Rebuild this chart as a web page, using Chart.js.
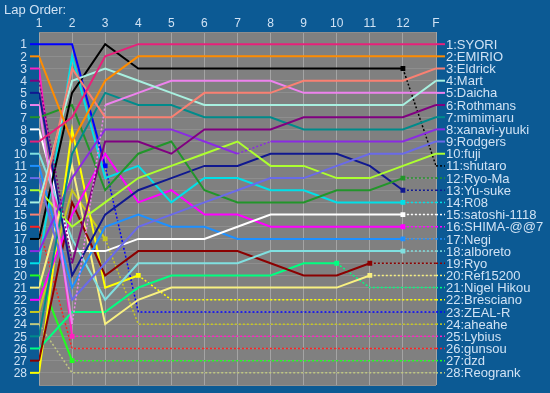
<!DOCTYPE html>
<html>
<head>
<meta charset="utf-8">
<script src="https://cdn.jsdelivr.net/npm/chart.js@4.4.1/dist/chart.umd.min.js"></script>
<style>
  html, body { margin: 0; padding: 0; background: #0c5a94; }
  canvas { display: block; }
</style>
</head>
<body>
<canvas id="lapChart" width="550" height="393"></canvas>
<script>
// column labels across the top
const lapLabels = ['1', '2', '3', '4', '5', '6', '7', '8', '9', '10', '11', '12', 'F'];

// drivers in finishing order, with their line colours
const drivers = ['SYORI', 'EMIRIO', 'Eldrick', 'Mart', 'Daicha', 'Rothmans', 'mimimaru', 'xanavi-yuuki',
  'Rodgers', 'fuji', 'shutaro', 'Ryo-Ma', 'Yu-suke', 'R08', 'satoshi-1118', 'SHIMA-@@7', 'Negi',
  'alboreto', 'Ryo', 'Ref15200', 'Nigel Hikou', 'Bresciano', 'ZEAL-R', 'aheahe', 'Lybius', 'gunsou',
  'dzd', 'Reogrank'];
const driverColors = ['#e8207a', '#ff8c00', '#fa8072', '#a8f0e0', '#ee82ee', '#800080', '#008b8b', '#8a2be2',
  '#6a6ae8', '#adff2f', '#000000', '#22952a', '#101890', '#00e0e8', '#ffffff', '#ff00ff', '#1e90ff',
  '#80e0e0', '#8b0000', '#f8f080', '#00ff80', '#ffff00', '#0000ff', '#c8c820', '#ff20c0', '#ff2020',
  '#20ff20', '#c0c880'];

// running order at each lap (position 1 first)
const lap1 = ['ZEAL-R', 'EMIRIO', 'Lybius', 'Rothmans', 'Yu-suke', 'Daicha', 'Ryo-Ma', 'satoshi-1118', 'SYORI',
  'alboreto', 'Negi', 'Rodgers', 'fuji', 'Mart', 'Eldrick', 'gunsou', 'shutaro', 'xanavi-yuuki', 'R08', 'dzd',
  'Ref15200', 'SHIMA-@@7', 'aheahe', 'Reogrank', 'mimimaru', 'Nigel Hikou', 'Ryo', 'Bresciano'];
const lap2 = ['ZEAL-R', 'R08', 'Eldrick', 'Mart', 'shutaro', 'Ryo-Ma', 'SYORI', 'Bresciano', 'EMIRIO', 'mimimaru',
  'Ref15200', 'xanavi-yuuki', 'aheahe', 'Ryo', 'SHIMA-@@7', 'fuji', 'alboreto', 'satoshi-1118', 'Rothmans',
  'Yu-suke', 'Negi', 'Rodgers', 'Nigel Hikou', 'Daicha', 'Lybius', 'gunsou', 'dzd', 'Reogrank'];
const lap3 = ['shutaro', 'SYORI', 'Mart', 'EMIRIO', 'mimimaru', 'Daicha', 'Eldrick', 'xanavi-yuuki', 'Rothmans',
  'SHIMA-@@7', 'ZEAL-R', 'R08', 'Ryo-Ma', 'fuji', 'Yu-suke', 'Negi', 'aheahe', 'satoshi-1118', 'Rodgers', 'Ryo',
  'Bresciano', 'alboreto', 'Nigel Hikou', 'Ref15200', 'Lybius', 'gunsou', 'dzd', 'Reogrank'];
const lap4 = ['SYORI', 'EMIRIO', 'shutaro', 'Mart', 'Daicha', 'mimimaru', 'Eldrick', 'xanavi-yuuki', 'Rothmans',
  'Ryo-Ma', 'R08', 'fuji', 'Yu-suke', 'SHIMA-@@7', 'Negi', 'Rodgers', 'satoshi-1118', 'Ryo', 'alboreto',
  'Bresciano', 'Nigel Hikou', 'Ref15200', 'ZEAL-R', 'aheahe', 'Lybius', 'gunsou', 'dzd', 'Reogrank'];
const lap5 = ['SYORI', 'EMIRIO', 'shutaro', 'Daicha', 'Mart', 'mimimaru', 'Eldrick', 'xanavi-yuuki', 'Ryo-Ma',
  'Rothmans', 'fuji', 'Yu-suke', 'SHIMA-@@7', 'R08', 'Rodgers', 'Negi', 'satoshi-1118', 'Ryo', 'alboreto',
  'Nigel Hikou', 'Ref15200', 'Bresciano', 'ZEAL-R', 'aheahe', 'Lybius', 'gunsou', 'dzd', 'Reogrank'];
const lap6 = ['SYORI', 'EMIRIO', 'shutaro', 'Daicha', 'Eldrick', 'Mart', 'mimimaru', 'Rothmans', 'xanavi-yuuki',
  'fuji', 'Yu-suke', 'R08', 'Ryo-Ma', 'Rodgers', 'SHIMA-@@7', 'Negi', 'satoshi-1118', 'Ryo', 'alboreto',
  'Nigel Hikou', 'Ref15200', 'Bresciano', 'ZEAL-R', 'aheahe', 'Lybius', 'gunsou', 'dzd', 'Reogrank'];
const lap7 = ['SYORI', 'EMIRIO', 'shutaro', 'Daicha', 'Eldrick', 'Mart', 'mimimaru', 'Rothmans', 'fuji',
  'xanavi-yuuki', 'Yu-suke', 'R08', 'Rodgers', 'Ryo-Ma', 'SHIMA-@@7', 'satoshi-1118', 'Negi', 'Ryo', 'alboreto',
  'Nigel Hikou', 'Ref15200', 'Bresciano', 'ZEAL-R', 'aheahe', 'Lybius', 'gunsou', 'dzd', 'Reogrank'];
const lap8 = ['SYORI', 'EMIRIO', 'shutaro', 'Daicha', 'Eldrick', 'Mart', 'mimimaru', 'Rothmans', 'xanavi-yuuki',
  'Yu-suke', 'fuji', 'Rodgers', 'R08', 'Ryo-Ma', 'satoshi-1118', 'SHIMA-@@7', 'Negi', 'alboreto', 'Ryo',
  'Nigel Hikou', 'Ref15200', 'Bresciano', 'ZEAL-R', 'aheahe', 'Lybius', 'gunsou', 'dzd', 'Reogrank'];
const lap9 = ['SYORI', 'EMIRIO', 'shutaro', 'Eldrick', 'Daicha', 'Mart', 'Rothmans', 'mimimaru', 'xanavi-yuuki',
  'Yu-suke', 'fuji', 'Rodgers', 'R08', 'Ryo-Ma', 'satoshi-1118', 'SHIMA-@@7', 'Negi', 'alboreto', 'Nigel Hikou',
  'Ryo', 'Ref15200', 'Bresciano', 'ZEAL-R', 'aheahe', 'Lybius', 'gunsou', 'dzd', 'Reogrank'];
const lap10 = ['SYORI', 'EMIRIO', 'shutaro', 'Eldrick', 'Daicha', 'Mart', 'Rothmans', 'mimimaru', 'xanavi-yuuki',
  'Yu-suke', 'Rodgers', 'fuji', 'Ryo-Ma', 'R08', 'satoshi-1118', 'SHIMA-@@7', 'Negi', 'alboreto', 'Nigel Hikou',
  'Ryo', 'Ref15200', 'Bresciano', 'ZEAL-R', 'aheahe', 'Lybius', 'gunsou', 'dzd', 'Reogrank'];
const lap11 = ['SYORI', 'EMIRIO', 'shutaro', 'Eldrick', 'Daicha', 'Mart', 'Rothmans', 'mimimaru', 'xanavi-yuuki',
  'Rodgers', 'Yu-suke', 'fuji', 'Ryo-Ma', 'R08', 'satoshi-1118', 'SHIMA-@@7', 'Negi', 'alboreto', 'Ryo',
  'Ref15200', 'Nigel Hikou', 'Bresciano', 'ZEAL-R', 'aheahe', 'Lybius', 'gunsou', 'dzd', 'Reogrank'];
const lap12 = ['SYORI', 'EMIRIO', 'shutaro', 'Eldrick', 'Daicha', 'Mart', 'Rothmans', 'mimimaru', 'xanavi-yuuki',
  'Rodgers', 'fuji', 'Ryo-Ma', 'Yu-suke', 'R08', 'satoshi-1118', 'SHIMA-@@7', 'Negi', 'alboreto', 'Ryo',
  'Ref15200', 'Nigel Hikou', 'Bresciano', 'ZEAL-R', 'aheahe', 'Lybius', 'gunsou', 'dzd', 'Reogrank'];
const lapFinal = drivers;

// dotted from this column on (retired / no time)
const dashFrom = {
  'shutaro': 11, 'Ryo-Ma': 11, 'Yu-suke': 11, 'R08': 11, 'satoshi-1118': 11, 'SHIMA-@@7': 11, 'Negi': 11,
  'alboreto': 11, 'Ryo': 10, 'Ref15200': 10, 'Nigel Hikou': 9, 'Bresciano': 3, 'ZEAL-R': 2, 'aheahe': 2,
  'Lybius': 1, 'gunsou': 0, 'dzd': 1, 'Reogrank': 0
};
// single dotted segments (missing lap)
const dashOnly = { 'Daicha': [1], 'Rothmans': [0], 'xanavi-yuuki': [6] };

const lapOrders = [lap1, lap2, lap3, lap4, lap5, lap6, lap7, lap8, lap9, lap10, lap11, lap12, lapFinal];

const isDashed = (name, seg) =>
  (dashFrom[name] !== undefined && seg >= dashFrom[name]) || (dashOnly[name] || []).includes(seg);

const datasets = drivers.map((name, i) => {
  const from = dashFrom[name];
  return {
    label: name,
    data: lapOrders.map((order, k) => ({ x: k + 1, y: order.indexOf(name) + 1 })),
    borderColor: driverColors[i],
    backgroundColor: driverColors[i],
    borderWidth: 2,
    tension: 0,
    pointStyle: 'rect',
    pointRadius: lapOrders.map((o, k) => (from > 0 && k === from ? 2 : 0)),
    segment: {
      borderDash: (c) => (isDashed(name, c.p0DataIndex) ? [2, 2] : undefined),
      borderWidth: (c) => (isDashed(name, c.p0DataIndex) ? 1.5 : 2),
    },
  };
});

const textColor = '#d0e2f4';

const chartDecor = {
  id: 'chartDecor',
  beforeDraw(chart) {
    const { ctx, chartArea: a } = chart;
    ctx.save();
    ctx.fillStyle = '#808080';
    ctx.fillRect(a.left, a.top, a.right - a.left, a.bottom - a.top);
    ctx.restore();
  },
  afterDraw(chart) {
    const { ctx, chartArea: a, scales: { x, y } } = chart;
    ctx.save();
    ctx.fillStyle = textColor;
    ctx.font = '13px "Liberation Sans", Arial, sans-serif';
    ctx.textAlign = 'left';
    ctx.textBaseline = 'alphabetic';
    ctx.fillText('Lap Order:', 4, 14);

    ctx.font = '12px "Liberation Sans", Arial, sans-serif';
    ctx.textAlign = 'center';
    ctx.textBaseline = 'middle';
    lapLabels.forEach((l, k) => ctx.fillText(l, x.getPixelForValue(k + 1), 24));

    ctx.textAlign = 'right';
    for (let p = 1; p <= drivers.length; p++) {
      ctx.fillText(String(p), 27, y.getPixelForValue(p) + 1);
    }

    // stubs at start and finish
    drivers.forEach((name, i) => {
      ctx.strokeStyle = driverColors[i];
      const y0 = y.getPixelForValue(lap1.indexOf(name) + 1);
      ctx.setLineDash([]);
      ctx.lineWidth = 2;
      ctx.beginPath();
      ctx.moveTo(30, y0);
      ctx.lineTo(a.left, y0);
      ctx.stroke();
      const yf = y.getPixelForValue(i + 1);
      const dashed = dashFrom[name] !== undefined;
      ctx.setLineDash(dashed ? [2, 2] : []);
      ctx.lineWidth = dashed ? 1.5 : 2;
      ctx.beginPath();
      ctx.moveTo(a.right, yf);
      ctx.lineTo(a.right + 9, yf);
      ctx.stroke();
    });
    ctx.setLineDash([]);

    ctx.font = '13px "Liberation Sans", Arial, sans-serif';
    ctx.textAlign = 'left';
    ctx.fillStyle = textColor;
    drivers.forEach((name, i) => {
      ctx.fillText((i + 1) + ':' + name, a.right + 10, y.getPixelForValue(i + 1) + 1);
    });
    ctx.restore();
  },
};

new Chart(document.getElementById('lapChart'), {
  type: 'line',
  data: { datasets },
  options: {
    responsive: false,
    animation: false,
    layout: { padding: { left: 39, right: 114, top: 32, bottom: 8 } },
    scales: {
      x: {
        type: 'linear', min: 1, max: 13,
        ticks: { display: false, stepSize: 1 },
        grid: { color: '#a4a4a4', lineWidth: 1, drawTicks: false },
        border: { display: false },
      },
      y: {
        type: 'linear', min: 0, max: 29, reverse: true,
        ticks: { display: false, stepSize: 1 },
        grid: { color: '#8e8e8e', lineWidth: 1, drawTicks: false },
        border: { display: false },
      },
    },
    plugins: { legend: { display: false }, tooltip: { enabled: false } },
  },
  plugins: [chartDecor],
});
</script>
</body>
</html>
